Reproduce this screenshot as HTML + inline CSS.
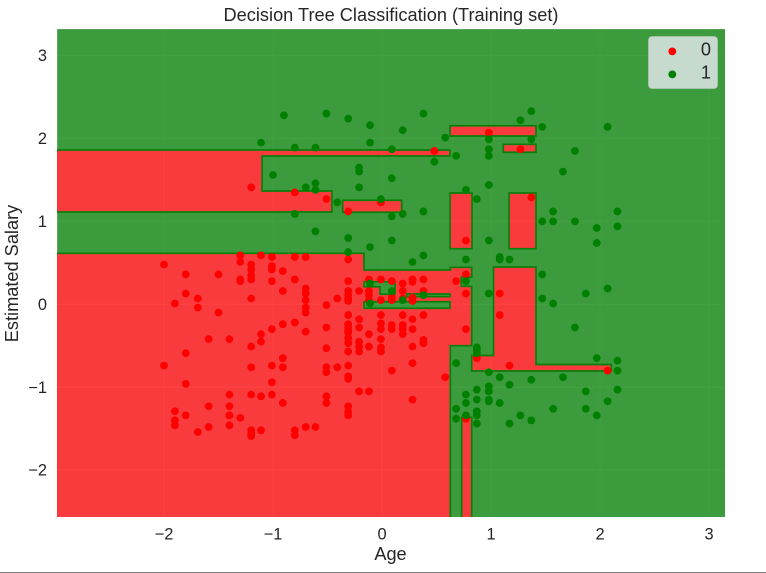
<!DOCTYPE html>
<html lang="en">
<head>
<meta charset="utf-8">
<title>Decision Tree Classification (Training set)</title>
<style>
html,body{margin:0;padding:0;background:#fff;width:766px;height:573px;overflow:hidden}
svg{display:block;font-family:"Liberation Sans",Arial,sans-serif}
text{fill:#262626}
</style>
</head>
<body>
<svg id="chart" width="766" height="573" viewBox="0 0 766 573" xmlns="http://www.w3.org/2000/svg">
  <defs><clipPath id="plot-clip"><rect x="57" y="29" width="668" height="488"></rect></clipPath></defs>
  <rect x="57" y="29" width="668" height="488" fill="#EAEAF2"></rect>
  <g id="grid"></g>
  <g id="regions" clip-path="url(#plot-clip)"></g>
  <g id="points-0"></g>
  <g id="points-1"></g>
  <g id="x-ticks"></g>
  <g id="y-ticks"></g>
  <text x="391" y="21" text-anchor="middle" font-size="18.2">Decision Tree Classification (Training set)</text>
  <text x="390.5" y="560" text-anchor="middle" font-size="18.2">Age</text>
  <text x="0" y="0" transform="translate(18 273.5) rotate(-90)" text-anchor="middle" font-size="18.2">Estimated Salary</text>
  <g>
    <rect x="648.5" y="36.5" width="69" height="52" rx="3.5" fill="#EAEAF2" fill-opacity="0.8" stroke="#cccccc" stroke-opacity="0.5"></rect>
    <circle cx="672.3" cy="51.4" r="3.9" fill="#ff0000"></circle>
    <text x="711" y="55.7" text-anchor="end" font-size="18.2">0</text>
    <circle cx="672.3" cy="74.4" r="3.9" fill="#008000"></circle>
    <text x="711" y="78.7" text-anchor="end" font-size="18.2">1</text>
  </g>
  <rect x="0" y="572" width="766" height="1" fill="#808080"></rect>
</svg>
<script>
const xTicks = [-2, -1, 0, 1, 2, 3];
const yTicks = [-2, -1, 0, 1, 2, 3];
const xLimits = [-2.98, 3.147];
const yLimits = [-2.566, 3.32];

const class0Ages = [-2.00,-1.90,-1.80,-1.69,-1.59,-1.50,-1.40,-1.30,-1.20,-1.11,-1.01,-0.91,-0.80,-0.70,-0.61,-0.51,-0.41,-0.31,-0.21,-0.12,-0.01,0.09,0.19,0.28,0.38,0.48,0.58,0.68,0.77,0.87,0.98,1.08,1.17,1.27,1.37,2.07];
const class0Salaries = [
  [0.48,-0.74],[0.01,-1.29,-1.40,-1.46],[0.36,0.13,-0.59,-0.96,-1.34],[0.07,-0.04,-1.54],[-0.42,-1.23,-1.48],
  [0.36,-0.10],[-0.42,-1.09,-1.23,-1.34,-1.46],[0.59,0.51,0.30,0.28,-1.37],
  [1.41,0.48,0.42,0.35,0.30,0.07,-0.51,-0.76,-1.09,-1.52,-1.56,-1.59],[0.59,-0.36,-0.45,-1.11,-1.52],
  [0.57,0.46,0.42,0.28,-0.30,-0.74,-0.94,-1.09],[0.40,0.16,-0.24,-0.65,-0.76,-1.19],[1.35,0.57,0.30,-0.22,-1.52,-1.58],
  [0.57,0.19,0.13,0.05,-0.04,-0.10,-0.33,-1.48],[-1.48],[1.27,-0.01,-0.28,-0.53,-0.76,-0.82,-1.11,-1.19],[0.07,-0.76],
  [1.12,0.54,0.28,0.16,0.11,0.07,0.04,-0.13,-0.24,-0.28,-0.31,-0.34,-0.41,-0.47,-0.57,-0.74,-0.87,-0.90,-1.23,-1.30,-1.34],
  [0.16,-0.18,-0.28,-0.45,-0.51,-0.57,-1.05],[0.30,0.16,0.11,0.05,-0.36,-0.51,-1.05],[1.23,0.30,0.05,-0.13,-0.23,-0.30,-0.42,-0.52,-0.57],
  [0.28,0.08,0.05,-0.25,-0.30,-0.80],[0.25,0.16,0.07,-0.13,-0.25,-0.30,-0.36],[0.30,0.27,0.08,0.04,-0.18,-0.30,-0.51,-0.71,-1.15],
  [0.30,0.16,-0.13,-0.43,-0.47],[1.85],[-0.88],[0.28],[0.77,0.36,0.13,-0.30,-1.38],[-0.65],[2.07],[0.13,-0.13],[-0.74],[1.87],[1.29],[-0.80]
];

const class1Ages = [-1.11,-1.00,-0.90,-0.80,-0.70,-0.61,-0.51,-0.41,-0.31,-0.21,-0.11,-0.01,0.09,0.19,0.28,0.38,0.48,0.58,0.68,0.77,0.87,0.98,1.08,1.17,1.27,1.37,1.47,1.57,1.66,1.77,1.87,1.97,2.07,2.16];
const class1Salaries = [
  [1.95],[1.56],[2.28],[1.89,1.09],[1.41],[1.89,1.46,1.38,0.88],[2.30],[1.23],[2.24,0.80,0.63],[1.65,1.60,1.41],
  [2.16,1.95,0.69,0.25,0.01],[1.27],[1.87,1.52,1.06,0.77,0.16],[2.10,1.09,0.05],[0.51],[2.30,1.12,0.59,0.11],[1.72],[2.01],
  [1.79,-0.71,-1.26,-1.38],[1.38,0.54,0.28,-1.09,-1.19,-1.34],[1.27,-0.52,-0.55,-0.59,-1.03,-1.15,-1.29,-1.34,-1.44],
  [1.99,1.87,1.79,1.44,0.77,0.13,-0.82,-0.99,-1.05,-1.15,-1.17],[0.57,0.54,-0.88,-1.19],[0.54,-0.97,-1.44],[2.22,-1.34],
  [2.33,1.99,-0.91,-1.40],[2.14,1.00,0.36,0.07],[1.12,1.00,0.01,-1.26],[1.60,-0.88],[1.85,1.00,-0.28],[0.13,-1.05,-1.26],
  [0.92,0.74,-0.65,-1.34],[2.14,0.19,-1.17],[1.12,0.94,-0.68,-0.80,-1.03]
];

const upperBandRegion = [[-3.2,1.861],[0.624,1.861],[0.624,1.789],[-1.10,1.789],[-1.10,1.367],[-0.459,1.367],[-0.459,1.113],[-3.2,1.113]];
const smallBandRegion = [[-0.361,1.255],[0.181,1.255],[0.181,1.110],[-0.361,1.110]];
const topBarRegion = [[0.624,2.154],[1.413,2.154],[1.413,2.030],[0.624,2.030]];
const shortBarRegion = [[1.113,1.930],[1.413,1.930],[1.413,1.834],[1.113,1.834]];
const leftBoxRegion = [[0.624,1.343],[0.826,1.343],[0.826,0.671],[0.624,0.671]];
const rightBoxRegion = [[1.165,1.343],[1.413,1.343],[1.413,0.671],[1.165,0.671]];
const mainRegion = [[-3.2,0.615],[-0.165,0.615],[-0.165,0.414],[0.627,0.414],[0.627,0.446],[0.823,0.446],[0.823,0.326],[0.728,0.326],[0.728,0.217],[0.823,0.217],[0.823,-0.499],[0.627,-0.499],[0.627,-2.8],[-3.2,-2.8]];
const holeLongRegion = [[-0.165,0.031],[0.624,0.031],[0.624,-0.048],[-0.165,-0.048]];
const holeThinRegion = [[0.227,0.124],[0.624,0.124],[0.624,0.092],[0.227,0.092]];
const holeHookRegion = [[-0.165,0.273],[0.119,0.273],[0.119,0.121],[-0.018,0.121],[-0.018,0.212],[-0.165,0.212]];
const lowerRightRegion = [[1.023,0.450],[1.413,0.450],[1.413,-0.726],[2.104,-0.726],[2.104,-0.805],[0.823,-0.805],[0.823,-0.618],[1.023,-0.618]];
const bottomStripRegion = [[0.731,-1.363],[0.823,-1.363],[0.823,-2.8],[0.731,-2.8]];

const regionList = [upperBandRegion, smallBandRegion, topBarRegion, shortBarRegion, leftBoxRegion, rightBoxRegion, mainRegion, holeLongRegion, holeThinRegion, holeHookRegion, lowerRightRegion, bottomStripRegion];

const NS = 'http://www.w3.org/2000/svg';
const xScale = v => 382 + v * 109;
const yScale = v => 304.3 - v * 82.9;

function make(tag, parent, attrs) {
  const el = document.createElementNS(NS, tag);
  Object.keys(attrs).forEach(k => el.setAttribute(k, attrs[k]));
  document.getElementById(parent).appendChild(el);
  return el;
}

const fmt = t => String(t).replace('-', '\u2212');

xTicks.forEach(t => {
  const line = make('line', 'grid', {x1: xScale(t), x2: xScale(t), y1: 29, y2: 517, stroke: '#ffffff', 'stroke-width': 1.3});
  
  
  const label = make('text', 'x-ticks', {x: xScale(t), y: 539.6, 'text-anchor': 'middle', 'font-size': 16.4});
  
  
  label.textContent = fmt(t);
});

yTicks.forEach(t => {
  const line = make('line', 'grid', {x1: 57, x2: 725, y1: yScale(t), y2: yScale(t), stroke: '#ffffff', 'stroke-width': 1.3});
  
  
  const label = make('text', 'y-ticks', {x: 47, y: yScale(t) + 5.6, 'text-anchor': 'end', 'font-size': 16.4});
  
  
  label.textContent = fmt(t);
});

const polyPath = poly => 'M' + poly.map(p => xScale(p[0]).toFixed(2) + ' ' + yScale(p[1]).toFixed(2)).join('L') + 'Z';
const allPolys = regionList.map(polyPath).join('');
const framePath = 'M' + xScale(xLimits[0]) + ' ' + yScale(yLimits[1]) + 'H' + xScale(xLimits[1]) + 'V' + yScale(yLimits[0]) + 'H' + xScale(xLimits[0]) + 'Z';

const greenArea = make('path', 'regions', {d: framePath + allPolys, fill: '#008000', 'fill-opacity': 0.75, 'fill-rule': 'evenodd'});


const redArea = make('path', 'regions', {d: allPolys, fill: '#ff0000', 'fill-opacity': 0.75, 'fill-rule': 'evenodd'});


const boundary = make('path', 'regions', {d: allPolys, fill: 'none', stroke: '#0b7f0b', 'stroke-width': 1.7});



class0Ages.forEach((age, i) => {
  class0Salaries[i].forEach(sal => {
    const dot = make('circle', 'points-0', {cx: xScale(age), cy: yScale(sal), r: 3.9, fill: '#ff0000'});
    
    
  });
});

class1Ages.forEach((age, i) => {
  class1Salaries[i].forEach(sal => {
    const dot = make('circle', 'points-1', {cx: xScale(age), cy: yScale(sal), r: 3.9, fill: '#008000'});
    
    
  });
});
</script>
</body>
</html>
